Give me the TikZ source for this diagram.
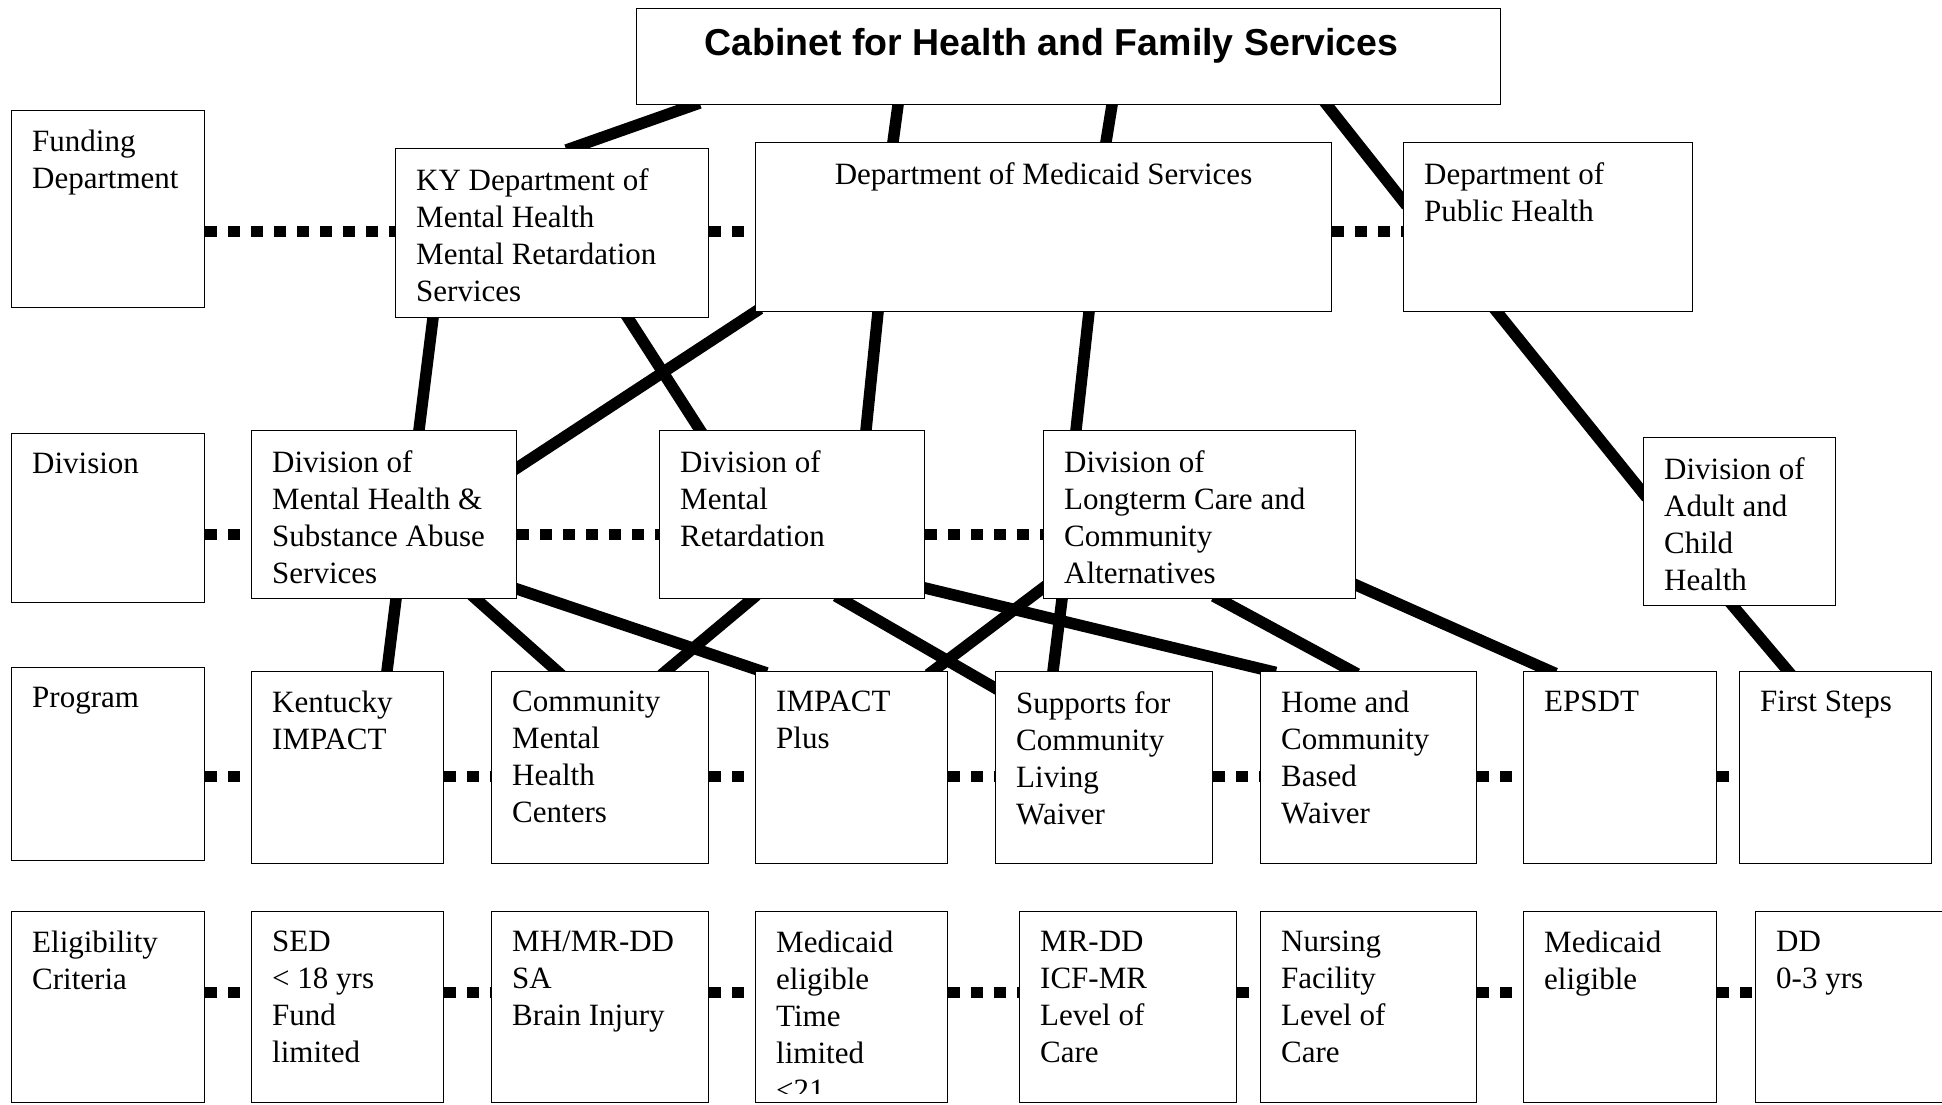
\documentclass[tikz,border=0pt]{standalone}
\usepackage{fontspec}
\setmainfont{Liberation Serif}
\newfontfamily\headfont{Liberation Sans}
\usetikzlibrary{calc,backgrounds}

\tikzset{
  unit/.style={draw, line width=1pt, fill=white, anchor=north west, inner sep=0pt},
  body/.style={font=\fontsize{31}{37}\selectfont},
  txt/.style={body, anchor=north west, inner sep=0pt, align=left, xshift=21pt, yshift=-20pt},
  link/.style={line width=11.5pt, shorten <=-6pt, shorten >=-6pt},
  dots/.style={line width=11pt, dash pattern=on 12pt off 11pt},
}

\begin{document}
\begin{tikzpicture}[x=1pt, y=-1pt]
  \useasboundingbox (0,0) rectangle (1942,1104);
  \clip (0,0) rectangle (1942,1104);

  % level names
  \node [unit, minimum width=193pt, minimum height=197pt,
         label={[txt]north west:{Funding\\Department}}] (fund) at (11,110) {};
  \node [unit, minimum width=193pt, minimum height=169pt,
         label={[txt]north west:Division}] (div) at (11,433) {};
  \node [unit, minimum width=193pt, minimum height=193pt,
         label={[txt]north west:Program}] (prog) at (11,667) {};
  \node [unit, minimum width=193pt, minimum height=191pt,
         label={[txt]north west:{Eligibility\\Criteria}}] (elig) at (11,911) {};

  % cabinet and departments
  \node [unit, minimum width=864pt, minimum height=96pt,
         label={[anchor=north, inner sep=0pt, xshift=-17pt, yshift=-20pt,
                 font=\headfont\fontsize{37.5}{42}\selectfont\bfseries]north:Cabinet for Health and Family Services}] (cab) at (636,8) {};
  \node [unit, minimum width=313pt, minimum height=169pt,
         label={[txt]north west:{KY Department of\\Mental Health\\Mental Retardation\\Services}}] (ky) at (395,148) {};
  \node [unit, minimum width=576pt, minimum height=169pt,
         label={[body, anchor=north, inner sep=0pt, yshift=-20pt]north:Department of Medicaid Services}] (med) at (755,142) {};
  \node [unit, minimum width=289pt, minimum height=169pt,
         label={[txt]north west:{Department of\\Public Health}}] (ph) at (1403,142) {};

  % divisions
  \node [unit, minimum width=265pt, minimum height=168pt,
         label={[txt]north west:{Division of\\Mental Health \&\\Substance Abuse\\Services}}] (divmh) at (251,430) {};
  \node [unit, minimum width=265pt, minimum height=168pt,
         label={[txt]north west:{Division of\\Mental\\Retardation}}] (divmr) at (659,430) {};
  \node [unit, minimum width=312pt, minimum height=168pt,
         label={[txt]north west:{Division of\\Longterm Care and\\Community\\Alternatives}}] (divltc) at (1043,430) {};
  \node [unit, minimum width=192pt, minimum height=168pt,
         label={[txt]north west:{Division of\\Adult and\\Child\\Health}}] (divach) at (1643,437) {};

  % programs
  \node [unit, minimum width=192pt, minimum height=192pt,
         label={[txt]north west:{Kentucky\\IMPACT}}] (kyi) at (251,671) {};
  \node [unit, minimum width=217pt, minimum height=192pt,
         label={[txt]north west:{Community\\Mental\\Health\\Centers}}] (cmhc) at (491,671) {};
  \node [unit, minimum width=192pt, minimum height=192pt,
         label={[txt]north west:{IMPACT\\Plus}}] (ipl) at (755,671) {};
  \node [unit, minimum width=217pt, minimum height=192pt,
         label={[txt]north west:{Supports for\\Community\\Living\\Waiver}}] (scl) at (995,671) {};
  \node [unit, minimum width=216pt, minimum height=192pt,
         label={[txt]north west:{Home and\\Community\\Based\\Waiver}}] (hcb) at (1260,671) {};
  \node [unit, minimum width=193pt, minimum height=192pt,
         label={[txt]north west:EPSDT}] (epsdt) at (1523,671) {};
  \node [unit, minimum width=192pt, minimum height=192pt,
         label={[txt]north west:First Steps}] (fst) at (1739,671) {};

  % eligibility
  \node [unit, minimum width=192pt, minimum height=191pt,
         label={[txt]north west:{SED\\< 18 yrs\\Fund\\limited}}] (sed) at (251,911) {};
  \node [unit, minimum width=217pt, minimum height=191pt,
         label={[txt]north west:{MH/MR-DD\\SA\\Brain Injury}}] (mhmr) at (491,911) {};
  \node [unit, minimum width=192pt, minimum height=191pt] (medel) at (755,911) {};
  \node [unit, minimum width=217pt, minimum height=191pt,
         label={[txt]north west:{MR-DD\\ICF-MR\\Level of\\Care}}] (mrdd) at (1019,911) {};
  \node [unit, minimum width=216pt, minimum height=191pt,
         label={[txt]north west:{Nursing\\Facility\\Level of\\Care}}] (nurs) at (1260,911) {};
  \node [unit, minimum width=193pt, minimum height=191pt,
         label={[txt]north west:{Medicaid\\eligible}}] (medel2) at (1523,911) {};
  \node [unit, minimum width=220pt, minimum height=191pt,
         label={[txt]north west:{DD\\0-3 yrs}}] (dd) at (1755,911) {};

  \begin{scope}
    \clip (medel.north west) rectangle ($(medel.south east)+(0,-10)$);
    \node [txt] (medeltxt) at (medel.north west) {Medicaid\\eligible\\Time\\limited\\<21};
  \end{scope}

  \begin{pgfonlayer}{background}
    \draw [link] ($(cab.south west)+(58,0)$)  -- ($(ky.north west)+(177,0)$);
    \draw [link] ($(cab.south west)+(262,0)$) -- ($(med.north west)+(138,0)$);
    \draw [link] ($(cab.south west)+(476,0)$) -- ($(med.north west)+(351,0)$);
    \draw [link] ($(cab.south west)+(691,0)$) -- ($(ph.north west)+(0,59)$);

    \draw [link] ($(ky.south west)+(38,0)$)   -- ($(divmh.north west)+(168,0)$);
    \draw [link] ($(ky.south west)+(233,0)$)  -- ($(divmr.north west)+(41,0)$);
    \draw [link] (med.south west)             -- ($(divmh.north east)+(0,38)$);
    \draw [link] ($(med.south west)+(123,0)$) -- ($(divmr.north west)+(207,0)$);
    \draw [link] ($(med.south west)+(334,0)$) -- ($(divltc.north west)+(33,0)$);
    \draw [link] ($(ph.south west)+(94,0)$)   -- ($(divach.north west)+(0,56)$);

    \draw [link] ($(divmh.south west)+(145,0)$)  -- ($(kyi.north west)+(136,0)$);
    \draw [link] ($(divmh.south west)+(225,0)$)  -- ($(cmhc.north west)+(66,0)$);
    \draw [link] ($(divmh.south east)+(0,-10)$)  -- ($(ipl.north west)+(6,0)$);
    \draw [link] ($(divmr.south west)+(93,0)$)   -- ($(cmhc.north west)+(175,0)$);
    \draw [link] ($(divmr.south west)+(182,0)$)  -- ($(scl.north west)+(0,17)$);
    \draw [link] ($(divmr.south east)+(0,-11)$)  -- ($(hcb.north west)+(10,0)$);
    \draw [link] ($(divltc.south west)+(0,-11)$) -- ($(ipl.north west)+(178,0)$);
    \draw [link] ($(divltc.south west)+(19,0)$)  -- ($(scl.north west)+(58,0)$);
    \draw [link] ($(divltc.south west)+(176,0)$) -- ($(hcb.north west)+(92,0)$);
    \draw [link] ($(divltc.south east)+(0,-14)$) -- ($(epsdt.north west)+(27,0)$);
    \draw [link] ($(divach.south west)+(90,0)$)  -- ($(fst.north west)+(49,0)$);
  \end{pgfonlayer}

  \coordinate (r1) at (0,231);
  \coordinate (r2) at (0,534);
  \coordinate (r3) at (0,776);
  \coordinate (r4) at (0,992);

  \draw [dots] (r1 -| fund.east) -- (r1 -| ky.west);
  \draw [dots] (r1 -| ky.east)   -- (r1 -| med.west);
  \draw [dots] (r1 -| med.east)  -- (r1 -| ph.west);

  \draw [dots] (r2 -| div.east)   -- (r2 -| divmh.west);
  \draw [dots] (r2 -| divmh.east) -- (r2 -| divmr.west);
  \draw [dots] (r2 -| divmr.east) -- (r2 -| divltc.west);

  \draw [dots] (r3 -| prog.east)  -- (r3 -| kyi.west);
  \draw [dots] (r3 -| kyi.east)   -- (r3 -| cmhc.west);
  \draw [dots] (r3 -| cmhc.east)  -- (r3 -| ipl.west);
  \draw [dots] (r3 -| ipl.east)   -- (r3 -| scl.west);
  \draw [dots] (r3 -| scl.east)   -- (r3 -| hcb.west);
  \draw [dots] (r3 -| hcb.east)   -- (r3 -| epsdt.west);
  \draw [dots] (r3 -| epsdt.east) -- (r3 -| fst.west);

  \draw [dots] (r4 -| elig.east)  -- (r4 -| sed.west);
  \draw [dots] (r4 -| sed.east)   -- (r4 -| mhmr.west);
  \draw [dots] (r4 -| mhmr.east)  -- (r4 -| medel.west);
  \draw [dots] (r4 -| medel.east) -- (r4 -| mrdd.west);
  \draw [dots] (r4 -| mrdd.east)  -- (r4 -| nurs.west);
  \draw [dots] (r4 -| nurs.east)  -- (r4 -| medel2.west);
  \draw [dots] (r4 -| medel2.east) -- (r4 -| dd.west);
\end{tikzpicture}
\end{document}
